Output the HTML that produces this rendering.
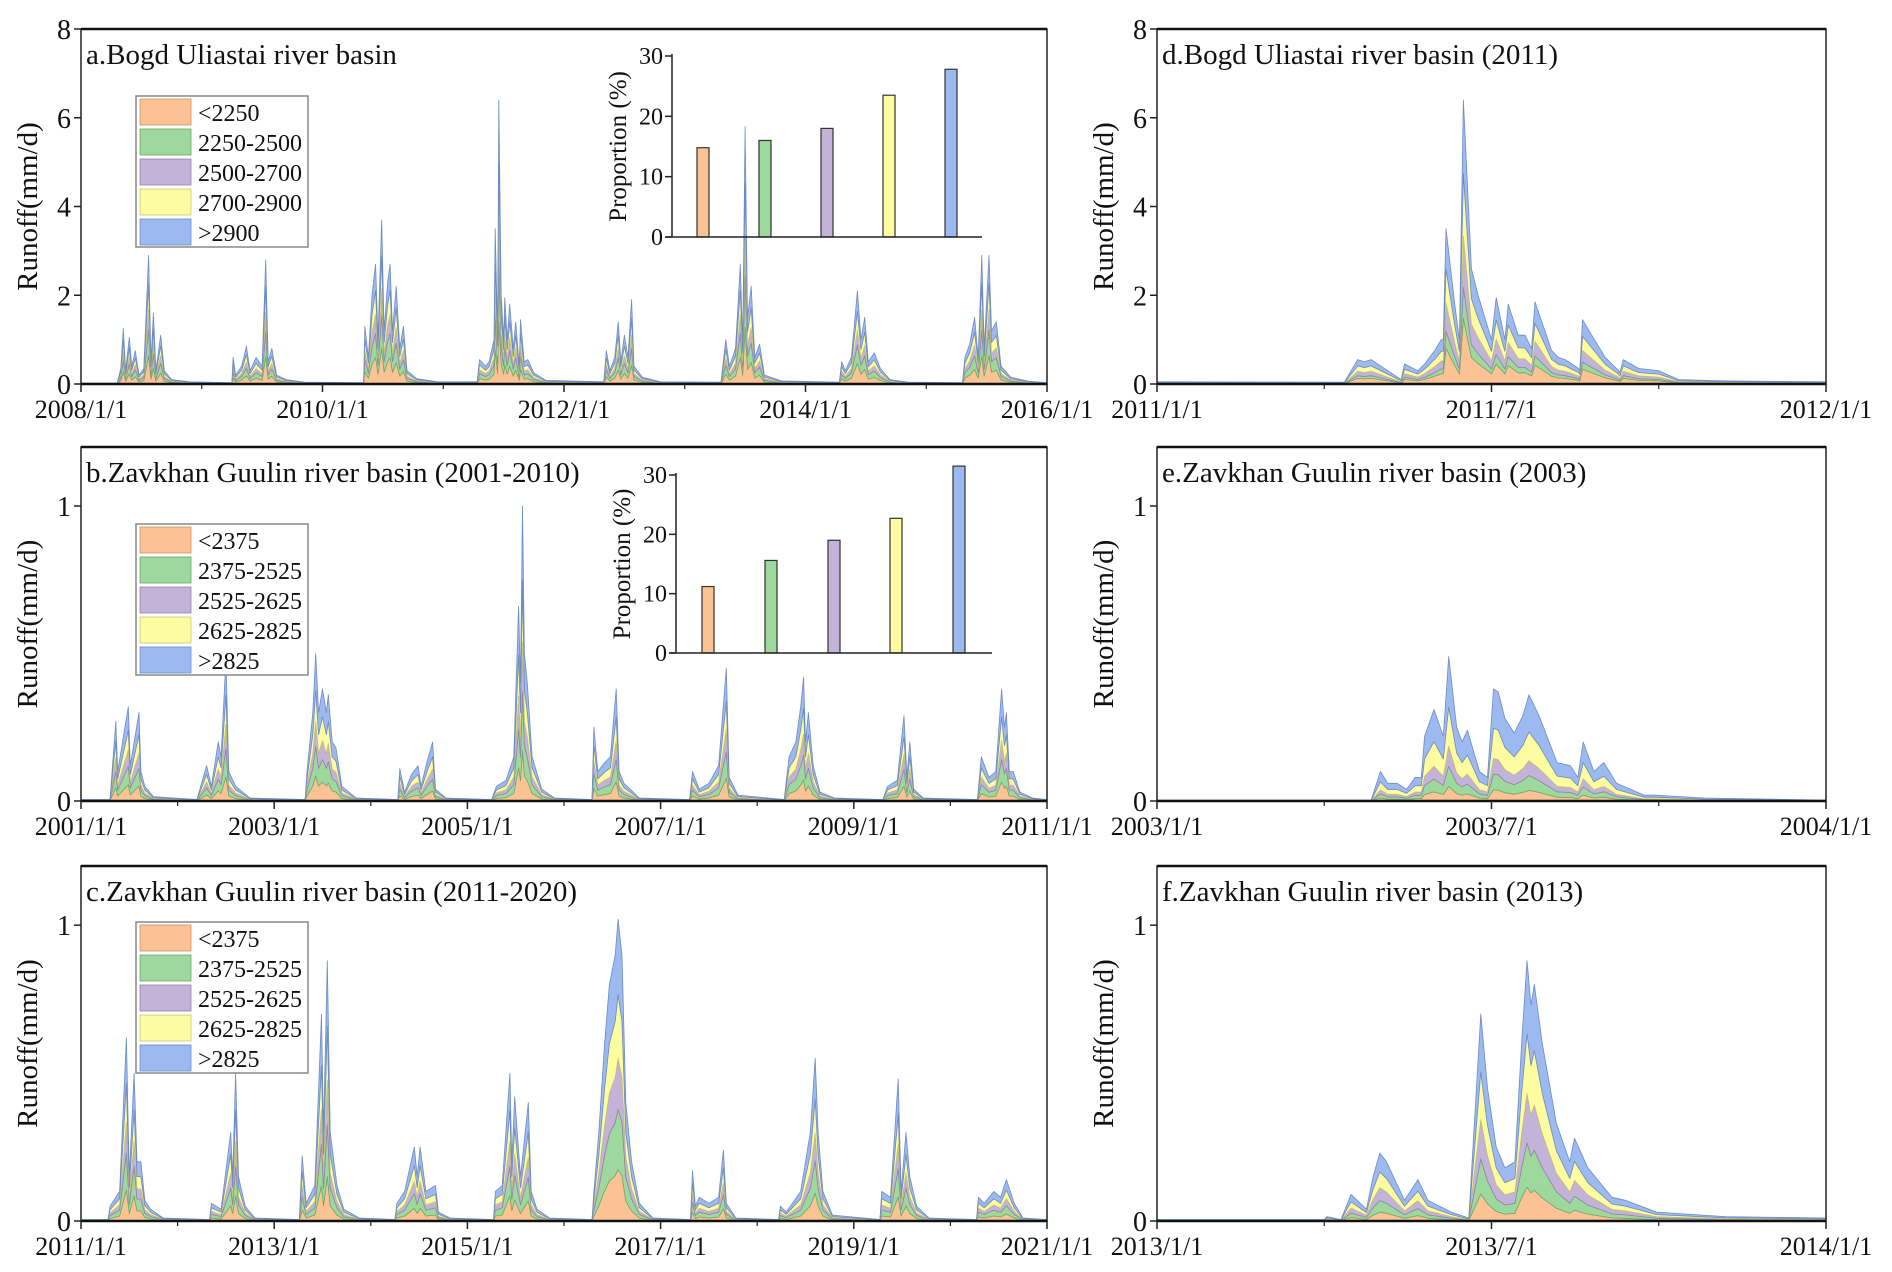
<!DOCTYPE html>
<html><head><meta charset="utf-8">
<style>
html,body{margin:0;padding:0;background:#fff;}
svg{display:block;}
svg text{font-family:"Liberation Serif","Times New Roman",serif;}
</style></head>
<body>
<svg id="fig" width="1892" height="1272" viewBox="0 0 1892 1272" xmlns="http://www.w3.org/2000/svg"></svg>
<script>
// ---------- data ----------
const bandColors=['#FBC393','#9DD89C','#C4B3D9','#FDFCA0','#9CBAF0'];
const bandEdges=['#c8946a','#6da86d','#9484aa','#c8c770','#6e8cc4'];
const legendA=['<2250','2250-2500','2500-2700','2700-2900','>2900'];
const legendB=['<2375','2375-2525','2525-2625','2625-2825','>2825'];
const propA=[14.8,16.0,18.0,23.5,27.8];
const propB=[11.2,15.6,19.0,22.7,31.5];
const sharesA=[0.22,0.2,0.16,0.2,0.22];
const sharesB=[0.17,0.2,0.17,0.21,0.25];
const sharesC=[0.17,0.2,0.17,0.21,0.25];
const sharesD=[0.23,0.11,0.18,0.22,0.26];
const sharesE=[0.1,0.14,0.14,0.27,0.35];
const sharesF=[0.13,0.17,0.19,0.23,0.28];

const aT=[2008.0,2008.30,2008.33,2008.35,2008.37,2008.40,2008.42,2008.45,2008.48,2008.52,2008.56,2008.58,2008.60,2008.62,2008.66,2008.69,2008.75,2008.9,2009.25,2009.26,2009.28,2009.33,2009.37,2009.40,2009.45,2009.50,2009.53,2009.55,2009.58,2009.62,2009.70,2009.85,2010.34,2010.35,2010.38,2010.41,2010.44,2010.46,2010.49,2010.51,2010.54,2010.56,2010.58,2010.61,2010.64,2010.67,2010.70,2010.78,2010.95,2011.28,2011.30,2011.35,2011.38,2011.42,2011.43,2011.45,2011.46,2011.48,2011.50,2011.51,2011.53,2011.55,2011.58,2011.60,2011.63,2011.64,2011.67,2011.70,2011.75,2011.85,2012.33,2012.35,2012.38,2012.42,2012.45,2012.47,2012.50,2012.53,2012.56,2012.58,2012.65,2012.8,2013.30,2013.34,2013.37,2013.42,2013.46,2013.48,2013.50,2013.52,2013.55,2013.58,2013.62,2013.66,2013.8,2014.28,2014.30,2014.33,2014.38,2014.43,2014.46,2014.49,2014.52,2014.57,2014.62,2014.70,2014.85,2015.30,2015.32,2015.36,2015.40,2015.43,2015.46,2015.48,2015.52,2015.54,2015.58,2015.62,2015.70,2015.85,2016.0];
const aV=[0.02,0.02,0.35,1.25,0.3,1.05,0.4,0.75,0.2,0.35,2.9,0.5,1.6,0.3,1.1,0.3,0.1,0.05,0.03,0.6,0.2,0.4,0.85,0.3,0.6,0.4,2.8,0.5,0.8,0.2,0.1,0.04,0.03,1.3,0.6,2.0,2.7,1.0,3.7,1.2,2.3,2.7,1.2,2.2,0.8,1.3,0.3,0.12,0.05,0.05,0.55,0.4,0.5,1.0,3.5,1.1,6.4,2.0,1.0,1.95,1.0,1.8,0.8,1.4,0.4,1.45,0.5,0.55,0.25,0.08,0.05,0.75,0.3,0.6,1.4,0.5,1.1,0.6,1.9,0.4,0.15,0.05,0.04,1.0,0.4,0.8,2.7,0.9,5.8,1.5,2.2,0.6,0.9,0.2,0.07,0.04,0.5,0.3,0.6,2.1,1.0,1.5,0.5,0.7,0.35,0.1,0.04,0.03,0.6,0.9,1.5,0.6,2.9,0.8,2.9,1.2,1.4,0.4,0.15,0.06,0.03];

const bT=[2001.0,2001.30,2001.36,2001.38,2001.49,2001.51,2001.60,2001.62,2001.66,2001.75,2002.2,2002.30,2002.35,2002.42,2002.45,2002.50,2002.53,2002.60,2002.75,2003.32,2003.34,2003.40,2003.43,2003.46,2003.50,2003.54,2003.56,2003.60,2003.64,2003.70,2003.85,2004.28,2004.30,2004.35,2004.42,2004.49,2004.52,2004.58,2004.64,2004.67,2004.78,2005.25,2005.30,2005.40,2005.48,2005.53,2005.55,2005.57,2005.59,2005.62,2005.67,2005.77,2005.9,2006.29,2006.31,2006.35,2006.42,2006.48,2006.54,2006.57,2006.62,2006.78,2007.30,2007.33,2007.40,2007.50,2007.60,2007.68,2007.71,2007.80,2008.28,2008.33,2008.40,2008.45,2008.48,2008.50,2008.53,2008.58,2008.65,2008.80,2009.30,2009.35,2009.45,2009.52,2009.55,2009.58,2009.62,2009.72,2010.28,2010.32,2010.40,2010.47,2010.53,2010.56,2010.58,2010.61,2010.65,2010.72,2010.85,2011.0];
const bV=[0.005,0.005,0.27,0.1,0.32,0.12,0.3,0.1,0.05,0.015,0.005,0.12,0.05,0.2,0.15,0.48,0.1,0.05,0.01,0.005,0.1,0.3,0.5,0.3,0.38,0.3,0.36,0.2,0.18,0.05,0.01,0.005,0.11,0.03,0.09,0.12,0.05,0.13,0.2,0.04,0.01,0.005,0.05,0.07,0.15,0.66,0.4,1.0,0.5,0.4,0.15,0.04,0.01,0.005,0.25,0.1,0.13,0.15,0.38,0.1,0.06,0.01,0.005,0.1,0.04,0.06,0.12,0.45,0.08,0.02,0.005,0.15,0.2,0.32,0.42,0.2,0.3,0.12,0.03,0.01,0.005,0.05,0.07,0.29,0.08,0.2,0.04,0.01,0.005,0.15,0.08,0.1,0.38,0.25,0.3,0.1,0.1,0.03,0.01,0.005];

const cT=[2011.0,2011.28,2011.30,2011.40,2011.47,2011.50,2011.55,2011.58,2011.62,2011.66,2011.72,2011.85,2012.33,2012.35,2012.45,2012.55,2012.57,2012.60,2012.63,2012.70,2012.80,2013.26,2013.29,2013.33,2013.42,2013.49,2013.51,2013.55,2013.58,2013.65,2013.72,2013.88,2014.25,2014.27,2014.35,2014.45,2014.48,2014.51,2014.57,2014.67,2014.70,2014.82,2015.27,2015.29,2015.36,2015.44,2015.46,2015.49,2015.55,2015.63,2015.66,2015.72,2015.85,2016.29,2016.31,2016.36,2016.42,2016.47,2016.53,2016.56,2016.60,2016.64,2016.70,2016.78,2016.92,2017.31,2017.33,2017.36,2017.40,2017.50,2017.60,2017.65,2017.68,2017.78,2018.22,2018.24,2018.30,2018.45,2018.55,2018.60,2018.63,2018.68,2018.78,2019.27,2019.29,2019.38,2019.46,2019.49,2019.54,2019.58,2019.65,2019.78,2020.27,2020.29,2020.35,2020.45,2020.52,2020.58,2020.62,2020.66,2020.75,2021.0];
const cV=[0.005,0.005,0.05,0.1,0.62,0.15,0.5,0.2,0.2,0.07,0.04,0.01,0.005,0.06,0.04,0.3,0.15,0.5,0.15,0.05,0.01,0.005,0.22,0.06,0.12,0.7,0.3,0.88,0.3,0.12,0.04,0.01,0.005,0.06,0.1,0.25,0.15,0.25,0.1,0.12,0.03,0.01,0.005,0.1,0.12,0.5,0.2,0.42,0.15,0.4,0.1,0.04,0.01,0.005,0.1,0.3,0.6,0.8,0.9,1.02,0.9,0.4,0.2,0.06,0.01,0.005,0.17,0.05,0.08,0.06,0.08,0.24,0.06,0.01,0.005,0.05,0.03,0.1,0.3,0.55,0.3,0.1,0.02,0.005,0.1,0.08,0.48,0.1,0.3,0.15,0.05,0.01,0.005,0.08,0.06,0.1,0.08,0.14,0.1,0.06,0.01,0.005];

const dT=[0,0.28,0.30,0.31,0.32,0.345,0.365,0.37,0.39,0.40,0.415,0.425,0.428,0.432,0.445,0.452,0.458,0.47,0.48,0.50,0.507,0.52,0.525,0.54,0.55,0.56,0.565,0.59,0.60,0.61,0.63,0.632,0.636,0.67,0.69,0.692,0.697,0.72,0.75,0.78,0.85,1.0];
const dV=[0.05,0.04,0.55,0.5,0.55,0.3,0.1,0.45,0.3,0.45,0.75,1.0,1.0,3.5,1.8,1.0,6.4,2.6,2.0,1.0,1.95,1.0,1.8,1.1,1.1,0.8,1.85,0.75,0.6,0.55,0.35,0.3,1.45,0.6,0.3,0.25,0.55,0.35,0.3,0.1,0.07,0.05];

const eT=[0,0.32,0.334,0.345,0.359,0.373,0.386,0.395,0.40,0.414,0.428,0.436,0.448,0.456,0.464,0.482,0.494,0.503,0.51,0.52,0.534,0.547,0.556,0.571,0.598,0.618,0.629,0.637,0.653,0.668,0.687,0.728,0.745,0.817,1.0];
const eV=[0.003,0.003,0.1,0.06,0.06,0.04,0.08,0.08,0.22,0.31,0.22,0.49,0.25,0.2,0.24,0.1,0.08,0.38,0.37,0.28,0.23,0.29,0.36,0.29,0.13,0.12,0.08,0.2,0.1,0.13,0.06,0.02,0.02,0.01,0.003];

const fT=[0,0.25,0.254,0.275,0.29,0.313,0.323,0.333,0.343,0.37,0.39,0.405,0.44,0.466,0.484,0.494,0.507,0.52,0.535,0.545,0.553,0.559,0.564,0.576,0.597,0.617,0.624,0.644,0.68,0.70,0.747,0.85,1.0];
const fV=[0.005,0.005,0.015,0.005,0.09,0.04,0.15,0.23,0.2,0.07,0.14,0.07,0.03,0.01,0.7,0.45,0.25,0.18,0.2,0.6,0.88,0.73,0.8,0.6,0.33,0.2,0.28,0.18,0.08,0.07,0.03,0.015,0.01];

// ---------- drawing ----------
const NS='http://www.w3.org/2000/svg';
const svg=document.getElementById('fig');
const FONT='"Liberation Serif", serif';
function mk(tag,attrs,parent){const e=document.createElementNS(NS,tag);for(const k in attrs)e.setAttribute(k,attrs[k]);(parent||svg).appendChild(e);return e;}
function txt(s,attrs,parent){attrs['font-family']=FONT;const e=mk('text',attrs,parent);e.textContent=s;return e;}

const L={x0:81,x1:1047},R={x0:1157,x1:1826};
const rows=[{y0:29,y1:384},{y0:447,y1:801},{y0:866,y1:1221}];

function panel(cfg){
  const g=mk('g',{});
  
  
  const {x0,x1,y0,y1,tmin,tmax,ymax}=cfg;
  const sx=t=>x0+(t-tmin)/(tmax-tmin)*(x1-x0);
  const sy=v=>y1-v/ymax*(y1-y0);
  const cid='clip-'+cfg.name;
  const cp=mk('clipPath',{id:cid},g);mk('rect',{x:x0,y:y0,width:x1-x0,height:y1-y0},cp);
  const ag=mk('g',{'clip-path':'url(#'+cid+')'},g);
  
  
  const cum=cfg.T.map(()=>0);
  for(let k=0;k<5;k++){
    const lo=cum.slice();
    for(let i=0;i<cfg.T.length;i++)cum[i]+=cfg.V[i]*cfg.shares[k];
    let d='M'+cfg.T.map((t,i)=>sx(t).toFixed(1)+','+sy(cum[i]).toFixed(1)).join('L');
    for(let i=cfg.T.length-1;i>=0;i--)d+='L'+sx(cfg.T[i]).toFixed(1)+','+sy(lo[i]).toFixed(1);
    const p=mk('path',{d:d+'Z',fill:bandColors[k],stroke:bandEdges[k],'stroke-width':0.8,'stroke-linejoin':'round'},ag);
    
    
  }
  const fr=mk('rect',{x:x0,y:y0,width:x1-x0,height:y1-y0,fill:'none',stroke:'#222','stroke-width':1.5},g);
  
  
  mk('line',{x1:x0,y1:y0,x2:x1,y2:y0,stroke:'#111','stroke-width':2.5},g);
  mk('line',{x1:x0,y1:y1,x2:x1,y2:y1,stroke:'#111','stroke-width':2.5},g);
  const xg=mk('g',{},g);
  
  
  cfg.xt.forEach((t,i)=>{
    mk('line',{x1:sx(t),y1:y1,x2:sx(t),y2:y1+8,stroke:'#222','stroke-width':1.5},xg);
    const tl=txt(cfg.xl[i],{x:sx(t),y:y1+34,'font-size':26,'text-anchor':'middle',fill:'#111'},xg);
    
    
  });
  cfg.xm.forEach(t=>mk('line',{x1:sx(t),y1:y1,x2:sx(t),y2:y1+5,stroke:'#222','stroke-width':1.2},xg));
  const yg=mk('g',{},g);
  
  
  cfg.yt.forEach((v,i)=>{
    mk('line',{x1:x0-7,y1:sy(v),x2:x0,y2:sy(v),stroke:'#222','stroke-width':1.5},yg);
    const tl=txt(cfg.yl[i],{x:x0-10,y:sy(v)+10,'font-size':28,'text-anchor':'end',fill:'#111'},yg);
    
    
  });
  const yt=txt('Runoff(mm/d)',{x:0,y:0,'font-size':29,'text-anchor':'middle',fill:'#111',transform:'translate('+(x0-44)+','+((y0+y1)/2)+') rotate(-90)'},g);
  
  
  const ti=txt(cfg.title,{x:x0+5,y:y0+35,'font-size':29,fill:'#111'},g);
  
  
  return g;
}

function legend(x,y,labels,name){
  const g=mk('g',{});
  
  
  mk('rect',{x:x,y:y,width:172,height:151,fill:'#fff',stroke:'#888','stroke-width':1.5},g);
  labels.forEach((s,k)=>{
    const e=mk('g',{},g);
    
    
    mk('rect',{x:x+4,y:y+3+k*30,width:51,height:26,fill:bandColors[k],stroke:bandEdges[k],'stroke-width':0.8},e);
    txt(s,{x:x+62,y:y+25+k*30,'font-size':24,fill:'#111'},e);
  });
}

function inset(ax,y0,yTop,xEnd,centers,vals,name){
  const g=mk('g',{});
  
  
  const y30=yTop;
  const sy=v=>y0-v/30*(y0-y30);
  vals.forEach((v,i)=>{
    const b=mk('rect',{x:centers[i]-6,y:sy(v),width:12,height:y0-sy(v),fill:bandColors[i],stroke:'#333','stroke-width':1.2},g);
    
    
  });
  mk('line',{x1:ax,y1:y30-2,x2:ax,y2:y0,stroke:'#222','stroke-width':1.5},g);
  mk('line',{x1:ax-7,y1:y0,x2:xEnd,y2:y0,stroke:'#222','stroke-width':1.5},g);
  [0,10,20,30].forEach(v=>{
    mk('line',{x1:ax-7,y1:sy(v),x2:ax,y2:sy(v),stroke:'#222','stroke-width':1.5},g);
    const t=txt(String(v),{x:ax-9,y:sy(v)+8,'font-size':24,'text-anchor':'end',fill:'#111'},g);
    
    
  });
  const t=txt('Proportion (%)',{x:0,y:0,'font-size':25,'text-anchor':'middle',fill:'#111',transform:'translate('+(ax-46)+','+((y0+y30)/2)+') rotate(-90)'},g);
  
  
}

const yrs=(a,b,s)=>{const r=[];for(let t=a;t<=b+1e-9;t+=s)r.push(t);return r;};
panel({name:'panel-a',x0:L.x0,x1:L.x1,y0:rows[0].y0,y1:rows[0].y1,tmin:2008,tmax:2016,ymax:8,T:aT,V:aV,shares:sharesA,
  xt:yrs(2008,2016,2),xl:yrs(2008,2016,2).map(y=>y+'/1/1'),xm:yrs(2009,2015,2),yt:[0,2,4,6,8],yl:['0','2','4','6','8'],title:'a.Bogd Uliastai river basin'});
panel({name:'panel-b',x0:L.x0,x1:L.x1,y0:rows[1].y0,y1:rows[1].y1,tmin:2001,tmax:2011,ymax:1.2,T:bT,V:bV,shares:sharesB,
  xt:yrs(2001,2011,2),xl:yrs(2001,2011,2).map(y=>y+'/1/1'),xm:yrs(2002,2010,2),yt:[0,1],yl:['0','1'],title:'b.Zavkhan Guulin river basin (2001-2010)'});
panel({name:'panel-c',x0:L.x0,x1:L.x1,y0:rows[2].y0,y1:rows[2].y1,tmin:2011,tmax:2021,ymax:1.2,T:cT,V:cV,shares:sharesC,
  xt:yrs(2011,2021,2),xl:yrs(2011,2021,2).map(y=>y+'/1/1'),xm:yrs(2012,2020,2),yt:[0,1],yl:['0','1'],title:'c.Zavkhan Guulin river basin  (2011-2020)'});
panel({name:'panel-d',x0:R.x0,x1:R.x1,y0:rows[0].y0,y1:rows[0].y1,tmin:0,tmax:1,ymax:8,T:dT,V:dV,shares:sharesD,
  xt:[0,0.5,1],xl:['2011/1/1','2011/7/1','2012/1/1'],xm:[0.25,0.75],yt:[0,2,4,6,8],yl:['0','2','4','6','8'],title:'d.Bogd Uliastai river basin (2011)'});
panel({name:'panel-e',x0:R.x0,x1:R.x1,y0:rows[1].y0,y1:rows[1].y1,tmin:0,tmax:1,ymax:1.2,T:eT,V:eV,shares:sharesE,
  xt:[0,0.5,1],xl:['2003/1/1','2003/7/1','2004/1/1'],xm:[0.25,0.75],yt:[0,1],yl:['0','1'],title:'e.Zavkhan Guulin river basin (2003)'});
panel({name:'panel-f',x0:R.x0,x1:R.x1,y0:rows[2].y0,y1:rows[2].y1,tmin:0,tmax:1,ymax:1.2,T:fT,V:fV,shares:sharesF,
  xt:[0,0.5,1],xl:['2013/1/1','2013/7/1','2014/1/1'],xm:[0.25,0.75],yt:[0,1],yl:['0','1'],title:'f.Zavkhan Guulin river basin  (2013)'});

legend(136,96,legendA,'legend-a');
legend(136,524,legendB,'legend-b');
legend(136,922,legendB,'legend-c');
inset(672,237,56,982,[703,765,827,889,951],propA,'inset-proportion-a');
inset(676,653,475,992,[708,771,834,896,959],propB,'inset-proportion-b');
</script>
</body></html>
